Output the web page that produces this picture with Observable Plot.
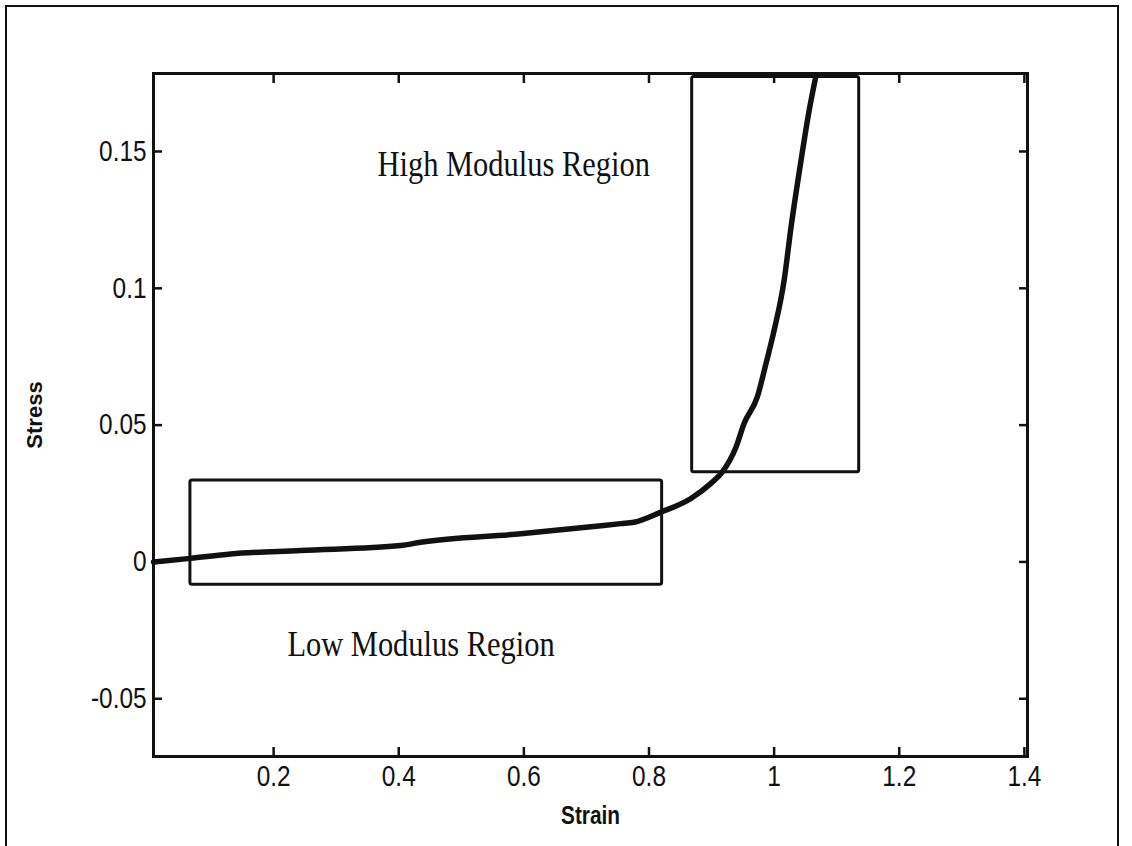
<!DOCTYPE html>
<html>
<head>
<meta charset="utf-8">
<script src="https://cdn.jsdelivr.net/npm/d3@7"></script>
<script src="https://cdn.jsdelivr.net/npm/@observablehq/plot@0.6"></script>
<style>
  html, body { margin: 0; padding: 0; background: #fff; }
  #wrap { position: relative; width: 1132px; height: 846px; overflow: hidden; }
  #border { position: absolute; left: 5px; top: 5px; width: 1114px; height: 860px; border: 2px solid #111; box-sizing: border-box; }
  #chart { position: absolute; left: 0; top: 0; }
</style>
</head>
<body>
<div id="wrap"><div id="border"></div><div id="chart"></div></div>
<script>
// Stress-strain curve
const strain = [0.008, 0.067, 0.131, 0.243, 0.403, 0.435, 0.595, 0.755, 0.776, 0.819, 0.867, 0.899, 0.917, 0.939, 0.952, 0.973, 0.987, 1.000, 1.016, 1.027, 1.043, 1.056, 1.067];
const stress = [0.0000, 0.0013, 0.0029, 0.0042, 0.0060, 0.0072, 0.0103, 0.0140, 0.0145, 0.0182, 0.0232, 0.0287, 0.0328, 0.0419, 0.0506, 0.0602, 0.0725, 0.0846, 0.1029, 0.1223, 0.1467, 0.1650, 0.1778];

// Region boxes
const regionNames = ["Low Modulus Region", "High Modulus Region"];
const boxX1 = [0.067, 0.869];
const boxX2 = [0.821, 1.136];
const boxY1 = [-0.0083, 0.0328];
const boxY2 = [0.0298, 0.1772];
const labelX = [0.222, 0.366];
const labelY = [-0.0345, 0.1412];

// Axis ticks
const xTicks = [0.2, 0.4, 0.6, 0.8, 1.0, 1.2, 1.4];
const xTickLabels = ["0.2", "0.4", "0.6", "0.8", "1", "1.2", "1.4"];
const yTicks = [-0.05, 0, 0.05, 0.1, 0.15];
const yTickLabels = ["-0.05", "0", "0.05", "0.1", "0.15"];

const curve = strain.map((s, i) => ({strain: s, stress: stress[i]}));
const boxes = regionNames.map((n, i) => ({name: n, x1: boxX1[i], x2: boxX2[i], y1: boxY1[i], y2: boxY2[i]}));
const labels = regionNames.map((n, i) => ({name: n, x: labelX[i], y: labelY[i]}));

const xFmt = d => xTickLabels[xTicks.findIndex(t => Math.abs(t - d) < 1e-9)];
const yFmt = d => yTickLabels[yTicks.findIndex(t => Math.abs(t - d) < 1e-9)];
const blank = () => "";

const chart = Plot.plot({
  width: 1132,
  height: 846,
  marginLeft: 153,
  marginTop: 73,
  marginRight: 105,
  marginBottom: 90,
  style: {fontFamily: "'Liberation Sans', Arial, sans-serif", background: "transparent", color: "#111"},
  x: {domain: [0.008, 1.405]},
  y: {domain: [-0.0711, 0.1785]},
  marks: [
    Plot.rect(boxes, {x1: "x1", x2: "x2", y1: "y1", y2: "y2", fill: "none", stroke: "#111", strokeWidth: 3, rx: 2}),
    Plot.line(curve, {x: "strain", y: "stress", stroke: "#111", strokeWidth: 5.5, strokeLinejoin: "round", strokeLinecap: "round", curve: "monotone-x"}),
    Plot.text(labels, {x: "x", y: "y", text: "name", textAnchor: "start", lineAnchor: "bottom", fontFamily: "'Liberation Serif', 'Times New Roman', serif", fontSize: 35, fill: "#111"}),
    Plot.frame({stroke: "#111", strokeWidth: 3}),
    // labels
    Plot.axisX(xTicks, {anchor: "bottom", tickSize: 0, tickPadding: 9, tickFormat: xFmt, fontSize: 29, label: "Strain", labelAnchor: "center", labelOffset: 67, labelArrow: "none"}),
    Plot.axisY(yTicks, {anchor: "left", tickSize: 0, tickPadding: 7, tickFormat: yFmt, fontSize: 29, label: "Stress", labelAnchor: "center", labelOffset: 127, labelArrow: "none"}),
    // inward ticks on all four sides
    Plot.axisX(xTicks, {anchor: "bottom", tickSize: 9, dy: -9, tickFormat: blank, label: null, strokeWidth: 2.5, stroke: "#111"}),
    Plot.axisX(xTicks, {anchor: "top", tickSize: 9, dy: 9, tickFormat: blank, label: null, strokeWidth: 2.5, stroke: "#111"}),
    Plot.axisY(yTicks, {anchor: "left", tickSize: 9, dx: 9, tickFormat: blank, label: null, strokeWidth: 2.5, stroke: "#111"}),
    Plot.axisY(yTicks, {anchor: "right", tickSize: 9, dx: -9, tickFormat: blank, label: null, strokeWidth: 2.5, stroke: "#111"})
  ]
});
document.getElementById("chart").appendChild(chart);

// The scanned original is slightly stretched vertically: condense glyphs horizontally.
function condense(selector, factor, attrs) {
  chart.querySelectorAll(selector).forEach(t => {
    if (attrs) for (const k in attrs) t.setAttribute(k, attrs[k]);
    const L = t.getComputedTextLength();
    if (L > 0) {
      t.setAttribute("textLength", (L * factor).toFixed(1));
      t.setAttribute("lengthAdjust", "spacingAndGlyphs");
    }
  });
}
condense("[aria-label='x-axis tick label'] text, [aria-label='y-axis tick label'] text", 0.84);
condense("[aria-label='x-axis label'] text", 0.8, {"font-weight": "bold", "font-size": "26"});
chart.querySelectorAll("[aria-label='y-axis label'] text").forEach(t => {
  t.setAttribute("font-weight", "bold");
  t.setAttribute("font-size", "22");
});
condense("[aria-label='text'] text", 0.87);
</script>
</body>
</html>
